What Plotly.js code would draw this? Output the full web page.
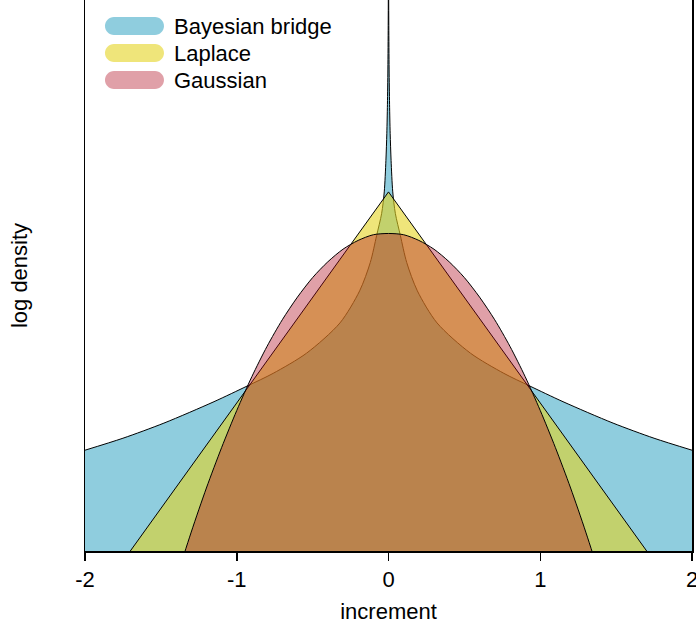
<!DOCTYPE html>
<html><head><meta charset="utf-8">
<script src="https://cdn.plot.ly/plotly-3.0.1.min.js"></script>
<style>html,body{margin:0;padding:0;background:#fff;} #chart{width:696px;height:625px;}</style>
</head><body><div id="chart"></div>
<script>
// ---- data (log density) ----
const seriesNames = ["Bayesian bridge", "Laplace", "Gaussian"];

const bridgeX = [-2.0,-1.75,-1.48,-1.15,-0.93,-0.76,-0.54,-0.32,-0.19,-0.12,-0.078,-0.045,-0.028,-0.017,-0.011,-0.007,-0.004,-0.002,-0.001,0,
                 0.001,0.002,0.004,0.007,0.011,0.017,0.028,0.045,0.078,0.12,0.19,0.32,0.54,0.76,0.93,1.15,1.48,1.75,2.0];
const bridgeY = [-3.50,-3.31,-3.07,-2.73,-2.48,-2.28,-1.96,-1.48,-0.97,-0.52,-0.09,0.26,0.60,1.10,1.53,1.99,2.55,3.24,3.93,6.0,
                 3.93,3.24,2.55,1.99,1.53,1.10,0.60,0.26,-0.09,-0.52,-0.97,-1.48,-1.96,-2.28,-2.48,-2.73,-3.07,-3.31,-3.50];

const laplaceX = [-2, -1, 0, 1, 2];
const laplaceY = [-6.10, -2.75, 0.60, -2.75, -6.10];

const gaussX = [-2.0,-1.8,-1.6,-1.4,-1.3,-1.2,-1.1,-1.0,-0.9,-0.8,-0.7,-0.6,-0.5,-0.4,-0.3,-0.2,-0.1,0,
                0.1,0.2,0.3,0.4,0.5,0.6,0.7,0.8,0.9,1.0,1.1,1.2,1.3,1.4,1.6,1.8,2.0];
const gaussY = [-11.30,-9.16,-7.25,-5.56,-4.80,-4.10,-3.46,-2.87,-2.33,-1.85,-1.43,-1.07,-0.76,-0.51,-0.31,-0.17,-0.08,-0.06,
                -0.08,-0.17,-0.31,-0.51,-0.76,-1.07,-1.43,-1.85,-2.33,-2.87,-3.46,-4.10,-4.80,-5.56,-7.25,-9.16,-11.30];

const xTickVals = [-2, -1, 0, 1, 2];
const xTickText = ["-2", "-1", "0", "1", "2"];

// ---- styles ----
const fillColors = ["rgba(68,172,200,0.6)", "rgba(228,212,33,0.6)", "rgba(174,5,26,0.38)"];
const lineShapes = ["spline", "linear", "spline"];
const BASE = -12;
const FONT = "Liberation Sans, Arial, Helvetica, sans-serif";

function baseline(xs) {
  return {
    type: "scatter", mode: "lines",
    x: [xs[0], xs[xs.length - 1]], y: [BASE, BASE],
    line: {width: 0, color: "rgba(0,0,0,0)"},
    hoverinfo: "skip", showlegend: false
  };
}
function curve(xs, ys, color, name, shape) {
  return {
    type: "scatter", mode: "lines", name: name,
    x: xs, y: ys,
    fill: "tonexty", fillcolor: color,
    line: {color: "black", width: 1, shape: shape, smoothing: 0.8},
    hoverinfo: "skip", showlegend: false
  };
}

const data = [
  baseline(bridgeX), curve(bridgeX, bridgeY, fillColors[0], seriesNames[0], lineShapes[0]),
  baseline(laplaceX), curve(laplaceX, laplaceY, fillColors[1], seriesNames[1], lineShapes[1]),
  baseline(gaussX), curve(gaussX, gaussY, fillColors[2], seriesNames[2], lineShapes[2])
];

// custom pill legend
const legendYs = [0.9528, 0.9038, 0.8548];
const pill = "M-20.5,-9 L20.5,-9 C25.47,-9 29.5,-4.97 29.5,0 C29.5,4.97 25.47,9 20.5,9 L-20.5,9 C-25.47,9 -29.5,4.97 -29.5,0 C-29.5,-4.97 -25.47,-9 -20.5,-9 Z";
const shapes = seriesNames.map((n, i) => ({
  type: "path", xref: "paper", yref: "paper",
  xsizemode: "pixel", ysizemode: "pixel",
  xanchor: 0.0815, yanchor: legendYs[i],
  path: pill, fillcolor: fillColors[i], line: {width: 0}, layer: "above"
}));
const annotations = seriesNames.map((n, i) => ({
  xref: "paper", yref: "paper", x: 0.1433, y: legendYs[i],
  xanchor: "left", yanchor: "middle", text: n, showarrow: false,
  font: {family: FONT, size: 22, color: "black"}
}));

const layout = {
  width: 696, height: 625,
  margin: {l: 85, r: 4, t: 0, b: 74, pad: 0},
  paper_bgcolor: "white", plot_bgcolor: "white",
  font: {family: FONT, size: 22, color: "black"},
  showlegend: false,
  xaxis: {
    range: [-2, 2], tickmode: "array", tickvals: xTickVals, ticktext: xTickText,
    ticks: "outside", ticklen: 8, tickwidth: 1.5, tickcolor: "black",
    ticklabeloverflow: "allow",
    showline: true, linecolor: "black", linewidth: 1.5,
    showgrid: false, zeroline: false,
    tickfont: {family: FONT, size: 22, color: "black"},
    title: {text: "increment", font: {family: FONT, size: 22, color: "black"}, standoff: 12}
  },
  yaxis: {
    range: [-5.1, 3.646],
    showline: true, mirror: true, linecolor: "black", linewidth: 1.5,
    showticklabels: false, ticks: "", showgrid: false, zeroline: false,
    title: {text: "log density", font: {family: FONT, size: 22, color: "black"}, standoff: 50}
  },
  shapes: shapes,
  annotations: annotations
};

Plotly.newPlot("chart", data, layout, {displayModeBar: false, staticPlot: true});
</script>
</body></html>
